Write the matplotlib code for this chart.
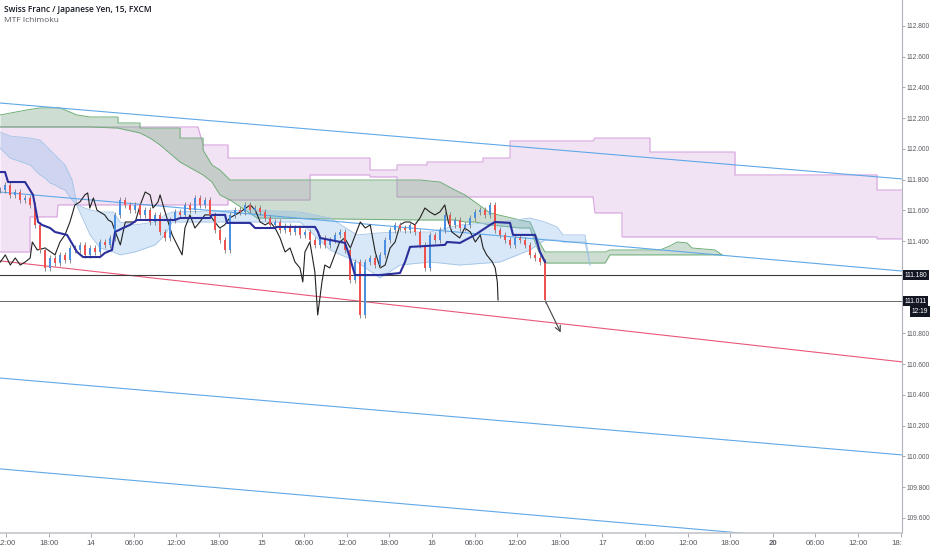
import matplotlib
matplotlib.use("Agg")
import matplotlib.pyplot as plt
import numpy as np
from matplotlib import font_manager
from matplotlib.transforms import Bbox, TransformedBbox, blended_transform_factory

plt.rcParams['font.family'] = ['Open Sans', 'DejaVu Sans']
# narrow font for the price scale, like the original
names = set(f.name for f in font_manager.fontManager.ttflist)
scale_font = 'Liberation Sans Narrow' if 'Liberation Sans Narrow' in names else 'Liberation Sans'

# time axis is in hours from 13th 12:00 (weekend skipped)
tick_hours = list(range(0, 127, 6))
tick_labels = ["12:00", "18:00", "14", "06:00", "12:00", "18:00", "15", "06:00", "12:00", "18:00",
               "16", "06:00", "12:00", "18:00", "17", "06:00", "12:00", "18:00", "20", "06:00",
               "12:00", "18:00"]
price_ticks = [109.6, 109.8, 110.0, 110.2, 110.4, 110.6, 110.8, 111.4, 111.6, 111.8, 112.0,
               112.2, 112.4, 112.6, 112.8]

# 15m closes (sampled)
closes = [111.733, 111.766, 111.701, 111.720, 111.668, 111.681, 111.636, 111.506, 111.343, 111.226,
          111.291, 111.258, 111.311, 111.278, 111.356, 111.343, 111.376, 111.311, 111.356, 111.330,
          111.395, 111.376, 111.421, 111.571, 111.668, 111.636, 111.603, 111.636, 111.571, 111.603,
          111.525, 111.571, 111.460, 111.421, 111.538, 111.590, 111.571, 111.636, 111.603, 111.681,
          111.636, 111.668, 111.571, 111.473, 111.408, 111.343, 111.571, 111.603, 111.590, 111.636,
          111.603, 111.616, 111.590, 111.551, 111.506, 111.525, 111.473, 111.499, 111.460, 111.486,
          111.441, 111.460, 111.408, 111.376, 111.421, 111.376, 111.408, 111.441, 111.460, 111.343,
          111.148, 111.265, 110.920, 111.265, 111.291, 111.245, 111.311, 111.408, 111.473, 111.506,
          111.486, 111.473, 111.506, 111.460, 111.376, 111.226, 111.441, 111.408, 111.473, 111.571,
          111.506, 111.538, 111.486, 111.506, 111.551, 111.590, 111.603, 111.571, 111.636, 111.473,
          111.441, 111.408, 111.376, 111.421, 111.408, 111.376, 111.311, 111.291, 111.265, 111.018]
first_bar, last_bar = -0.85, 75.92

# lagging line (black)
lag_t = [-0.8, -0.1, 0.6, 1.3, 2.0, 2.7, 3.4, 3.7, 4.4, 5.5,
         6.9, 7.6, 8.3, 9.0, 9.7, 10.4, 11.1, 11.5, 11.8, 12.3,
         12.8, 13.2, 13.9, 14.4, 14.9, 15.4, 16.1, 16.8, 18.2, 18.9,
         19.6, 20.3, 20.7, 21.4, 21.7, 22.4, 23.4, 24.8, 25.2, 25.9,
         26.6, 27.3, 28.0, 28.7, 29.4, 30.1, 30.8, 31.5, 33.0, 34.4,
         35.1, 35.8, 36.5, 37.2, 37.9, 38.6, 39.3, 40.0, 40.7, 41.4,
         41.8, 42.1, 42.8, 43.5, 43.9, 44.5, 44.9, 45.6, 46.3, 47.0,
         47.7, 48.5, 49.2, 49.9, 50.6, 51.3, 52.0, 52.7, 53.4, 54.1,
         54.8, 55.5, 56.2, 56.9, 57.6, 58.3, 59.0, 59.7, 60.4, 61.1,
         61.8, 62.3, 62.8, 63.9, 64.6, 65.4, 66.1, 66.8, 67.2, 67.7,
         68.5, 68.9, 69.2, 69.3]
lag_p = [111.265, 111.311, 111.245, 111.291, 111.245, 111.265, 111.291, 111.395, 111.343, 111.356,
         111.311, 111.395, 111.441, 111.525, 111.636, 111.655, 111.701, 111.714, 111.616, 111.681,
         111.603, 111.590, 111.571, 111.538, 111.525, 111.460, 111.376, 111.525, 111.525, 111.636,
         111.720, 111.701, 111.616, 111.655, 111.701, 111.590, 111.441, 111.311, 111.486, 111.571,
         111.486, 111.525, 111.571, 111.571, 111.525, 111.486, 111.506, 111.551, 111.590, 111.636,
         111.603, 111.525, 111.506, 111.525, 111.486, 111.421, 111.330, 111.356, 111.265, 111.226,
         111.135, 111.330, 111.395, 111.200, 110.920, 111.135, 111.245, 111.226, 111.311, 111.395,
         111.421, 111.356, 111.441, 111.525, 111.486, 111.506, 111.330, 111.226, 111.245, 111.356,
         111.395, 111.506, 111.525, 111.525, 111.506, 111.551, 111.616, 111.590, 111.571, 111.590,
         111.636, 111.525, 111.460, 111.421, 111.486, 111.460, 111.395, 111.441, 111.356, 111.311,
         111.265, 111.226, 111.135, 111.018]

# higher TF kijun (navy)
kijun_t = [-0.85, -0.14, 0.28, 2.68, 3.80, 4.51, 5.07, 6.20, 6.90, 8.59,
           10.0, 10.85, 13.24, 13.94, 14.93, 15.35, 16.48, 17.46, 18.45, 23.80,
           24.51, 28.73, 29.01, 30.85, 31.13, 34.37, 35.07, 37.89, 38.17, 43.52,
           43.94, 44.23, 47.75, 48.45, 49.15, 52.68, 55.49, 56.20, 56.90, 61.83,
           62.11, 63.94, 66.06, 68.17, 68.87, 70.99, 71.41, 74.51, 75.21, 75.92]
kijun_p = [111.850, 111.850, 111.785, 111.785, 111.701, 111.525, 111.506, 111.486, 111.460, 111.441,
           111.330, 111.297, 111.297, 111.324, 111.343, 111.460, 111.486, 111.506, 111.538, 111.538,
           111.551, 111.551, 111.571, 111.571, 111.519, 111.519, 111.486, 111.486, 111.493, 111.493,
           111.460, 111.421, 111.389, 111.291, 111.180, 111.180, 111.193, 111.265, 111.363, 111.376,
           111.395, 111.389, 111.441, 111.506, 111.525, 111.519, 111.441, 111.441, 111.330, 111.265]

# purple cloud (higher TF)
purple_t = [-0.85, 3.38, 3.38, 7.18, 7.32, 27.04, 27.75, 31.27, 31.27, 42.82,
            42.82, 51.27, 51.27, 55.07, 55.07, 59.30, 59.30, 67.18, 67.18, 70.99,
            70.99, 82.68, 82.96, 86.76, 86.76, 90.70, 90.70, 102.68, 102.68, 122.68,
            122.68, 126.2]
purple_top = [112.143, 112.143, 112.143, 112.143, 112.143, 112.143, 112.026, 112.026, 111.941, 111.941,
              111.941, 111.941, 111.863, 111.863, 111.896, 111.896, 111.915, 111.915, 111.941, 111.941,
              112.052, 112.052, 112.071, 112.071, 112.071, 112.071, 111.980, 111.980, 111.831, 111.831,
              111.733, 111.733]
purple_bot = [111.330, 111.330, 111.558, 111.558, 111.636, 111.636, 111.636, 111.636, 111.668, 111.668,
              111.831, 111.831, 111.818, 111.818, 111.688, 111.688, 111.688, 111.688, 111.688, 111.688,
              111.688, 111.688, 111.584, 111.584, 111.428, 111.428, 111.428, 111.428, 111.428, 111.428,
              111.415, 111.415]

# green cloud (mid TF)
green_t = [-0.85, 2.96, 4.79, 7.61, 10.0, 11.83, 15.77, 15.77, 18.87, 18.87,
           20.28, 21.69, 24.51, 24.51, 27.75, 27.75, 29.01, 30.14, 31.55, 35.35,
           58.31, 61.13, 63.24, 64.65, 66.06, 68.17, 72.39, 73.80, 74.93, 75.92,
           84.37, 85.07, 92.11, 93.52, 94.51, 95.92, 96.62, 99.86, 100.85]
green_top = [112.221, 112.254, 112.267, 112.267, 112.221, 112.208, 112.208, 112.169, 112.169, 112.136,
             112.136, 112.136, 112.136, 112.071, 112.071, 111.993, 111.896, 111.863, 111.798, 111.798,
             111.798, 111.785, 111.733, 111.701, 111.655, 111.584, 111.538, 111.525, 111.408, 111.330,
             111.330, 111.343, 111.343, 111.369, 111.395, 111.389, 111.356, 111.343, 111.311]
green_bot = [112.143, 112.143, 112.143, 112.143, 112.143, 112.143, 112.136, 112.136, 112.104, 112.104,
             112.071, 112.026, 111.915, 111.915, 111.831, 111.831, 111.785, 111.701, 111.668, 111.551,
             111.538, 111.538, 111.538, 111.525, 111.525, 111.506, 111.486, 111.486, 111.343, 111.258,
             111.258, 111.311, 111.311, 111.311, 111.311, 111.311, 111.311, 111.311, 111.311]

# blue cloud (chart TF)
blue_t = [-0.85, 0.56, 3.38, 4.79, 5.49, 6.20, 6.90, 7.61, 8.31, 9.30,
          10.0, 11.83, 13.24, 15.07, 16.06, 18.17, 20.99, 22.39, 23.38, 34.37,
          41.41, 45.63, 49.44, 52.68, 55.49, 59.72, 63.94, 69.58, 73.80, 75.92,
          77.61, 78.45, 81.55, 82.25]
blue_top = [112.110, 112.084, 112.071, 112.058, 112.026, 111.993, 111.961, 111.928, 111.896, 111.798,
            111.636, 111.603, 111.590, 111.590, 111.525, 111.506, 111.525, 111.571, 111.590, 111.603,
            111.590, 111.551, 111.441, 111.454, 111.460, 111.460, 111.506, 111.525, 111.551, 111.525,
            111.493, 111.441, 111.441, 111.245]
blue_bot = [112.006, 111.941, 111.896, 111.831, 111.811, 111.779, 111.766, 111.746, 111.733, 111.668,
            111.629, 111.441, 111.356, 111.330, 111.311, 111.330, 111.376, 111.441, 111.525, 111.525,
            111.525, 111.343, 111.265, 111.161, 111.245, 111.265, 111.245, 111.265, 111.343, 111.408,
            111.408, 111.395, 111.395, 111.245]

# drawn trend lines (start / end price at chart edges)
edge_t = [-0.85, 126.2]
trend_blue = [[112.299, 111.805], [111.720, 111.206], [110.510, 110.010], [109.919, 109.411]]
trend_red = [111.272, 110.615]
level_high = 111.180
last_price = 111.011
arrow_from = (75.9, 111.018)
arrow_to = (78.3, 110.79)

fig = plt.figure(figsize=(9.32, 5.5), dpi=100)
ax = fig.add_axes([0, 17 / 550, 902 / 932, 533 / 550])
ax.set_xlim(-0.85, 126.2)
ax.set_ylim(109.502, 112.969)

# clouds
ax.fill_between(purple_t, purple_top, purple_bot, color='#ce93d8', alpha=0.26, lw=0, zorder=1)
ax.plot(purple_t, purple_top, color='#d6a3de', lw=0.8, zorder=1)
ax.plot(purple_t, purple_bot, color='#d6a3de', lw=0.8, zorder=1)
ax.fill_between(green_t, green_top, green_bot, color='#7fa888', alpha=0.38, lw=0, zorder=1)
ax.plot(green_t, green_top, color='#6fae78', lw=0.7, zorder=1)
ax.plot(green_t, green_bot, color='#6fae78', lw=0.7, zorder=1)
ax.fill_between(blue_t, blue_top, blue_bot, color='#7fb3ea', alpha=0.3, lw=0, zorder=1)
ax.plot(blue_t, blue_top, color='#a3c4e6', lw=0.6, zorder=1)
ax.plot(blue_t, blue_bot, color='#a3c4e6', lw=0.6, zorder=1)

# trend lines
for p in trend_blue:
    ax.plot(edge_t, p, color='#5fa8e8', lw=0.8, zorder=2)
ax.plot(edge_t, trend_red, color='#e8587a', lw=0.8, zorder=2)
ax.axhline(level_high, color='#3a3a3a', lw=0.8, zorder=2)
ax.axhline(last_price, color='#6a6a6a', lw=0.7, zorder=2)

# lagging line
ax.plot(lag_t, lag_p, color='#222222', lw=0.8, zorder=3)

# candles
bar_t = np.linspace(first_bar, last_bar, len(closes))
opens = [closes[0]] + closes[:-1]
wick = 0.022
for t, o, c in zip(bar_t, opens, closes):
    col = '#4a8fe0' if c >= o else '#ef5350'
    ax.vlines(t, min(o, c) - wick, max(o, c) + wick, color='#7a7a7a', lw=0.6, zorder=4)
    ax.bar(t, max(abs(c - o), 0.006), bottom=min(o, c), width=0.4, color=col, lw=0, zorder=4)

ax.plot(kijun_t, kijun_p, color='#2a2f9c', lw=1.5, zorder=5)

ax.annotate('', xy=arrow_to, xytext=arrow_from,
            arrowprops=dict(arrowstyle='->', color='#444444', lw=0.8), zorder=6)

# axes styling
for s in ['top', 'left']:
    ax.spines[s].set_visible(False)
ax.spines['right'].set_color('#b0b3bb')
ax.spines['bottom'].set_color('#c4c6cc')
ax.spines['bottom'].set_linewidth(1.2)
ax.yaxis.tick_right()
ax.set_yticks(price_ticks)
ax.set_yticklabels(['%.3f' % v for v in price_ticks], family=scale_font)
ax.set_xticks(tick_hours)
ax.set_xticklabels(tick_labels, family=scale_font)
ax.tick_params(axis='y', length=2, width=0.6, color='#9a9ca3', labelsize=4.8, labelcolor='#55585f', pad=1.2)
ax.tick_params(axis='x', length=3, width=0.6, color='#9a9ca3', labelsize=5.6, labelcolor='#55585f', pad=2)
for lab in ax.get_xticklabels():
    if lab.get_text() == '20':
        lab.set_fontweight('bold')
clip = TransformedBbox(Bbox([[0, 0], [902 / 932, 1]]), fig.transFigure)
for lab in ax.get_xticklabels():
    lab.set_clip_on(True)
    lab.set_clip_box(clip)

# price boxes on scale
tr = blended_transform_factory(ax.transAxes, ax.transData)
box = dict(boxstyle='square,pad=0.25', fc='#131722', ec='none')
ax.text(1.0025, level_high, '%.3f' % level_high, transform=tr, fontsize=4.8, color='white', family=scale_font,
        va='center', ha='left', bbox=box, clip_on=False)
ax.text(1.0025, last_price, '%.3f' % last_price, transform=tr, fontsize=4.8, color='white', family=scale_font,
        va='center', ha='left', bbox=box, clip_on=False)
ax.text(1.011, last_price - 0.068, '12:19', transform=tr, fontsize=4.8, color='white', family=scale_font,
        va='center', ha='left', bbox=box, clip_on=False)

fig.text(4 / 932, 1 - 9 / 550, 'Swiss Franc / Japanese Yen, 15, FXCM', fontsize=6, color='#131722',
         fontweight='semibold', va='center', ha='left')
fig.text(4 / 932, 1 - 20 / 550, 'MTF Ichimoku', fontsize=6, color='#55585f', va='center', ha='left')

fig.savefig('out.png', dpi=100)
